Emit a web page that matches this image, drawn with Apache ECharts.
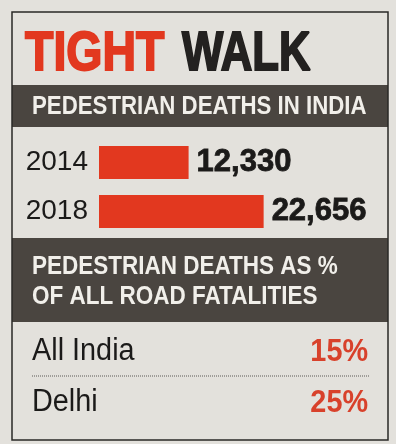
<!DOCTYPE html>
<html>
<head>
<meta charset="utf-8">
<script src="https://cdn.jsdelivr.net/npm/echarts@6/dist/echarts.min.js"></script>
<style>
html, body { margin: 0; padding: 0; background: #e3e1dc; }
#chartDiv { width: 396px; height: 444px; }
</style>
</head>
<body>
<div id="chartDiv"></div>
<script>
const years = ['2014', '2018'];
const deaths = [12330, 22656];
const regions = ['All India', 'Delhi'];
const shares = ['15%', '25%'];

const sans = '"Liberation Sans", Arial, sans-serif';

chartInit = () => {
	let chart = echarts.init(document.getElementById('chartDiv'));

	// rows of the percent table
	let rows = [];
	regions.forEach((name, i) => {
		let y = 336 + i * 51;
		rows.push({
			type: 'text', x: 32, y: y, scaleX: 0.93,
			style: { text: name, font: '31px ' + sans, fill: '#1b1a19', textVerticalAlign: 'top' }
		});
		rows.push({
			type: 'text', x: 368, y: y, scaleX: 0.9,
			style: { text: shares[i], font: 'bold 32px ' + sans, fill: '#d8412b', textAlign: 'right', textVerticalAlign: 'top' }
		});
	});

	let option = {
		backgroundColor: '#e3e1dc',
		animation: false,
		grid: {
			left: 99,
			top: 138,
			width: 218,
			height: 98
		},
		xAxis: {
			type: 'value',
			min: 0,
			max: 30000,
			show: false
		},
		yAxis: {
			type: 'category',
			inverse: true,
			data: years,
			axisLine: { show: false },
			axisTick: { show: false },
			splitLine: { show: false },
			axisLabel: {
				margin: 11,
				color: '#1b1a19',
				fontSize: 28,
				fontFamily: sans
			}
		},
		series: [{
			type: 'bar',
			barWidth: 33,
			data: deaths,
			itemStyle: { color: '#e2381f' },
			label: {
				show: true,
				position: 'right',
				distance: 8,
				color: '#1b1a19',
				fontSize: 31,
				fontWeight: 'bold',
				fontFamily: sans,
				textBorderColor: '#1b1a19',
				textBorderWidth: 0.8,
				formatter: p => p.value.toLocaleString('en-US')
			}
		}],
		graphic: [
			{ type: 'rect', shape: { x: 12, y: 85, width: 376, height: 42 }, style: { fill: '#4a4540' } },
			{ type: 'rect', shape: { x: 12, y: 238, width: 376, height: 84 }, style: { fill: '#4a4540' } },
			{ type: 'rect', shape: { x: 12, y: 12, width: 376, height: 428 }, style: { fill: 'none', stroke: '#2a2826', lineWidth: 1.5 } },
			{
				type: 'text', x: 25, y: 27, scaleX: 0.83,
				style: { text: 'TIGHT', font: 'bold 56px ' + sans, fill: '#e2381f', stroke: '#e2381f', lineWidth: 2, textVerticalAlign: 'top' }
			},
			{
				type: 'text', x: 182, y: 27, scaleX: 0.78,
				style: { text: 'WALK', font: 'bold 56px ' + sans, fill: '#232120', stroke: '#232120', lineWidth: 2, textVerticalAlign: 'top' }
			},
			{
				type: 'text', x: 32, y: 95, scaleX: 0.89,
				style: { text: 'PEDESTRIAN DEATHS IN INDIA', font: 'bold 25px ' + sans, fill: '#f1efea', textVerticalAlign: 'top' }
			},
			{
				type: 'text', x: 32, y: 255, scaleX: 0.9,
				style: { text: 'PEDESTRIAN DEATHS AS %', font: 'bold 25px ' + sans, fill: '#f1efea', textVerticalAlign: 'top' }
			},
			{
				type: 'text', x: 32, y: 285, scaleX: 0.9,
				style: { text: 'OF ALL ROAD FATALITIES', font: 'bold 25px ' + sans, fill: '#f1efea', textVerticalAlign: 'top' }
			},
			{
				type: 'line', shape: { x1: 32, y1: 376, x2: 370, y2: 376 },
				style: { stroke: '#3a3836', lineWidth: 0.8, lineDash: [1, 1] }
			}
		].concat(rows)
	};
	chart.setOption(option);
};
chartInit();
</script>
</body>
</html>
